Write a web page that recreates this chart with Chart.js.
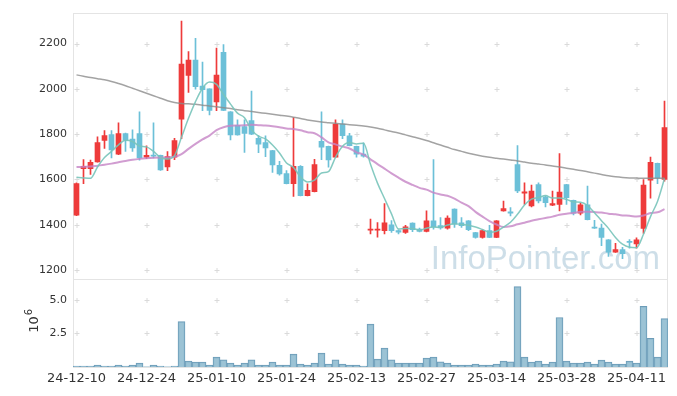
<!DOCTYPE html>
<html>
<head>
<meta charset="utf-8">
<script src="https://cdn.jsdelivr.net/npm/chart.js@4"></script>
<style>
  html, body { margin: 0; padding: 0; background: #fff; }
  #wrap { width: 677px; height: 396px; }
</style>
</head>
<body>
<div id="wrap"><canvas id="chart" width="677" height="396"></canvas></div>
<script>
// ----- DATA -----
const dates = [
  '24-12-10','24-12-11','24-12-12','24-12-13','24-12-16','24-12-17','24-12-18','24-12-19','24-12-20','24-12-23',
  '24-12-24','24-12-26','24-12-27','24-12-30','25-01-02','25-01-03','25-01-06','25-01-07','25-01-08','25-01-09',
  '25-01-10','25-01-13','25-01-14','25-01-15','25-01-16','25-01-17','25-01-20','25-01-21','25-01-22','25-01-23',
  '25-01-24','25-01-31','25-02-03','25-02-04','25-02-05','25-02-06','25-02-07','25-02-10','25-02-11','25-02-12',
  '25-02-13','25-02-14','25-02-17','25-02-18','25-02-19','25-02-20','25-02-21','25-02-24','25-02-25','25-02-26',
  '25-02-27','25-02-28','25-03-04','25-03-05','25-03-06','25-03-07','25-03-10','25-03-11','25-03-12','25-03-13',
  '25-03-14','25-03-17','25-03-18','25-03-19','25-03-20','25-03-21','25-03-24','25-03-25','25-03-26','25-03-27',
  '25-03-28','25-03-31','25-04-01','25-04-02','25-04-03','25-04-04','25-04-07','25-04-08','25-04-09','25-04-10',
  '25-04-11','25-04-14','25-04-15','25-04-16','25-04-17'
];

const opens = [
  1442,1648,1648,1677,1772,1798,1712,1803,1778,1803,
  1698,1706,1707,1655,1699,1866,2060,2127,2013,2000,
  1943,2162,1899,1839,1834,1860,1782,1763,1728,1663,
  1626,1581,1658,1528,1546,1768,1746,1699,1845,1793,
  1746,1712,1376,1376,1374,1400,1374,1366,1407,1381,
  1371,1417,1396,1385,1469,1409,1417,1366,1344,1374,
  1344,1461,1457,1666,1540,1483,1578,1523,1486,1490,
  1578,1508,1451,1488,1388,1385,1333,1279,1290,1325,
  1315,1384,1597,1671,1600
];
const highs = [
  1585,1688,1686,1788,1816,1816,1850,1805,1819,1899,
  1749,1850,1708,1723,1782,2300,2165,2223,2118,2000,
  2180,2196,1900,1863,1863,1990,1794,1793,1729,1680,
  1639,1873,1661,1581,1689,1899,1747,1863,1863,1804,
  1747,1762,1425,1410,1493,1418,1378,1398,1408,1385,
  1461,1688,1432,1439,1470,1432,1418,1367,1378,1398,
  1418,1505,1476,1750,1585,1575,1585,1527,1549,1714,
  1579,1509,1496,1571,1420,1403,1334,1318,1300,1335,
  1342,1600,1699,1672,1946
];
const lows = [
  1440,1581,1622,1676,1737,1695,1710,1724,1724,1685,
  1692,1695,1640,1639,1688,1780,1984,1999,1904,1885,
  1904,1904,1775,1796,1720,1798,1718,1701,1631,1619,
  1580,1525,1527,1527,1545,1688,1654,1698,1780,1748,
  1699,1698,1359,1345,1359,1366,1359,1362,1369,1368,
  1368,1381,1381,1381,1388,1388,1374,1341,1341,1343,
  1343,1460,1439,1542,1490,1479,1497,1479,1484,1461,
  1490,1443,1443,1421,1384,1308,1260,1278,1250,1297,
  1297,1362,1517,1582,1593
];
const closes = [
  1582,1658,1676,1763,1794,1730,1803,1774,1739,1695,
  1707,1703,1642,1701,1772,2110,2127,2010,1997,1905,
  2061,1905,1797,1797,1803,1800,1756,1739,1664,1625,
  1581,1658,1528,1552,1666,1743,1686,1845,1793,1749,
  1712,1703,1378,1378,1409,1374,1367,1391,1378,1371,
  1417,1391,1386,1429,1403,1396,1378,1344,1374,1344,
  1417,1471,1451,1549,1545,1549,1505,1498,1493,1544,
  1520,1451,1488,1422,1385,1344,1279,1290,1272,1322,
  1333,1575,1676,1607,1829
];

const ma5 = [
  1610,1607,1605,1655,1697,1724,1753,1773,1768,1748,
  1744,1724,1697,1690,1705,1786,1870,1944,2003,2030,
  2020,1976,1933,1893,1873,1820,1791,1779,1752,1717,
  1673,1653,1611,1589,1597,1629,1635,1698,1747,1763,
  1757,1760,1667,1584,1516,1448,1381,1384,1384,1376,
  1385,1390,1389,1399,1405,1401,1398,1390,1379,1367,
  1371,1390,1411,1446,1487,1513,1520,1529,1518,1518,
  1512,1501,1499,1485,1453,1418,1384,1344,1314,1301,
  1299,1358,1436,1503,1604
];
const ma20 = [
  1655,1656,1657,1661,1665,1670,1676,1682,1687,1691,
  1694,1696,1697,1697,1700,1712,1735,1757,1777,1794,
  1818,1831,1837,1838,1839,1842,1840,1838,1835,1831,
  1825,1823,1817,1809,1804,1786,1764,1755,1745,1737,
  1720,1710,1689,1668,1648,1627,1608,1590,1576,1563,
  1555,1542,1534,1528,1515,1498,1482,1457,1436,1416,
  1401,1390,1393,1402,1409,1418,1424,1430,1436,1444,
  1449,1452,1457,1457,1456,1454,1449,1446,1441,1440,
  1436,1441,1452,1455,1469
];
const ma60 = [
  2062,2056,2050,2045,2040,2033,2024,2014,2003,1992,
  1981,1970,1959,1948,1940,1936,1934,1932,1928,1925,
  1921,1917,1913,1908,1904,1900,1896,1892,1888,1884,
  1880,1875,1869,1863,1858,1854,1851,1848,1845,1842,
  1839,1836,1832,1826,1819,1812,1805,1797,1789,1781,
  1772,1762,1752,1742,1732,1724,1716,1709,1703,1698,
  1694,1690,1686,1682,1677,1672,1668,1664,1659,1655,
  1650,1645,1640,1634,1628,1622,1616,1612,1609,1607,
  1606,1605,1605,1605,1606
];

// volume in millions of shares
const volumes = [
  0.07,0.07,0.07,0.15,0.07,0.07,0.15,0.07,0.15,0.30,
  0.02,0.15,0.07,0.02,0.07,3.38,0.44,0.37,0.37,0.15,
  0.74,0.54,0.30,0.15,0.30,0.54,0.15,0.15,0.37,0.15,
  0.15,0.96,0.22,0.15,0.30,1.03,0.22,0.54,0.22,0.15,
  0.15,0.07,3.19,0.59,1.40,0.54,0.30,0.30,0.30,0.30,
  0.66,0.74,0.39,0.30,0.15,0.15,0.15,0.22,0.15,0.15,
  0.22,0.44,0.39,5.98,0.74,0.37,0.44,0.22,0.37,3.68,
  0.44,0.30,0.30,0.37,0.22,0.51,0.37,0.22,0.22,0.44,
  0.30,4.51,2.13,0.74,3.60
];

const priceTicks = [1200, 1400, 1600, 1800, 2000, 2200];
const volumeTicks = [2.5, 5.0];

// ----- STYLE -----
const UP = '#ee3b3b';
const DOWN = '#6cc0d8';
const candleColors = closes.map((c, i) => c >= opens[i] ? UP : DOWN);

// ----- DECORATION PLUGIN -----
const decor = {
  id: 'decor',
  beforeDatasetsDraw(chart) {
    const { ctx, scales } = chart;
    const x = scales.x, y = scales.y, yv = scales.yv;
    ctx.save();
    // panel frames
    ctx.strokeStyle = '#e4e4e4';
    ctx.lineWidth = 1;
    [y, yv].forEach(s => {
      ctx.strokeRect(Math.round(x.left) + 0.5, Math.round(s.top) + 0.5,
        Math.round(x.right - x.left) - 1, Math.round(s.bottom - s.top));
    });
    // little crosses where the grid would meet
    ctx.strokeStyle = '#dadada';
    ctx.beginPath();
    [y, yv].forEach(s => {
      s.ticks.forEach(t => {
        const py = Math.round(s.getPixelForValue(t.value)) + 0.5;
        for (let i = 0; i < dates.length; i += 10) {
          const px = Math.round(x.getPixelForValue(i)) - 0.5;
          ctx.moveTo(px - 2, py); ctx.lineTo(px + 3, py);
          ctx.moveTo(px + 0.5, py - 2.5); ctx.lineTo(px + 0.5, py + 2.5);
        }
      });
    });
    ctx.stroke();
    // watermark
    ctx.font = '33px "Liberation Sans", Arial, sans-serif';
    ctx.fillStyle = 'rgba(172,200,216,0.6)';
    ctx.textAlign = 'right';
    ctx.textBaseline = 'alphabetic';
    ctx.fillText('InfoPointer.com', x.right - 8, y.bottom - 10);
    ctx.restore();
  },
  afterDraw(chart) {
    const { ctx, scales } = chart;
    const yv = scales.yv;
    ctx.save();
    ctx.translate(38, (yv.top + yv.bottom) / 2 + 10);
    ctx.rotate(-Math.PI / 2);
    ctx.fillStyle = '#333';
    ctx.textBaseline = 'alphabetic';
    ctx.textAlign = 'left';
    ctx.font = '13px "DejaVu Sans", sans-serif';
    ctx.fillText('10', 0, 0);
    const w = ctx.measureText('10').width;
    ctx.font = '10px "DejaVu Sans", sans-serif';
    ctx.fillText('6', w + 1, -6);
    ctx.restore();
  }
};

// ----- CHART -----
const tickFont = { family: '"DejaVu Sans", sans-serif', size: 11 };
const lineStyle = { type: 'line', yAxisID: 'y', pointRadius: 0, cubicInterpolationMode: 'monotone', order: 0 };

new Chart(document.getElementById('chart'), {
  type: 'bar',
  data: {
    labels: dates,
    datasets: [
      { ...lineStyle, label: 'MA5', data: ma5, borderColor: 'rgba(120,196,186,0.9)', borderWidth: 1.5 },
      { ...lineStyle, label: 'MA20', data: ma20, borderColor: 'rgba(198,132,198,0.8)', borderWidth: 2 },
      { ...lineStyle, label: 'MA60', data: ma60, borderColor: 'rgba(140,140,140,0.8)', borderWidth: 1.5 },
      { label: 'wick', data: dates.map((d, i) => [lows[i], highs[i]]), yAxisID: 'y', backgroundColor: candleColors, barThickness: 1, grouped: false, order: 2 },
      { label: 'body', data: dates.map((d, i) => [opens[i], closes[i]]), yAxisID: 'y', backgroundColor: candleColors, barThickness: 5, minBarLength: 1, grouped: false, order: 1 },
      { label: 'volume', data: volumes, yAxisID: 'yv', backgroundColor: 'rgba(145,188,208,0.9)', borderColor: 'rgba(108,156,184,1)', borderWidth: 1, barPercentage: 1, categoryPercentage: 1, grouped: false, order: 3 }
    ]
  },
  options: {
    responsive: false,
    animation: false,
    events: [],
    layout: { padding: { top: 10, right: 9, left: 0, bottom: 0 } },
    plugins: { legend: { display: false }, tooltip: { enabled: false } },
    scales: {
      x: {
        type: 'category',
        offset: true,
        grid: { display: false, drawTicks: false },
        border: { display: false },
        ticks: {
          autoSkip: false, maxRotation: 0, minRotation: 0, padding: 4,
          color: '#333', font: { family: '"DejaVu Sans", sans-serif', size: 13 },
          callback: (v, i) => i % 10 === 0 ? dates[i] : ''
        },
        afterFit: s => { s.height = 29; }
      },
      yv: {
        position: 'left', stack: 'panels', stackWeight: 89,
        min: 0, max: 6.57,
        grid: { display: false, drawTicks: false },
        border: { display: false },
        ticks: { color: '#333', font: tickFont, padding: 6, callback: v => v.toFixed(1) },
        afterBuildTicks: s => { s.ticks = volumeTicks.map(v => ({ value: v })); },
        afterFit: s => { s.width = 73; }
      },
      y: {
        position: 'left', stack: 'panels', stackWeight: 268,
        min: 1162, max: 2337,
        grid: { display: false, drawTicks: false },
        border: { display: false },
        ticks: { color: '#333', font: tickFont, padding: 6, callback: v => String(v) },
        afterBuildTicks: s => { s.ticks = priceTicks.map(v => ({ value: v })); },
        afterFit: s => { s.width = 73; }
      }
    }
  },
  plugins: [decor]
});
</script>
</body>
</html>
